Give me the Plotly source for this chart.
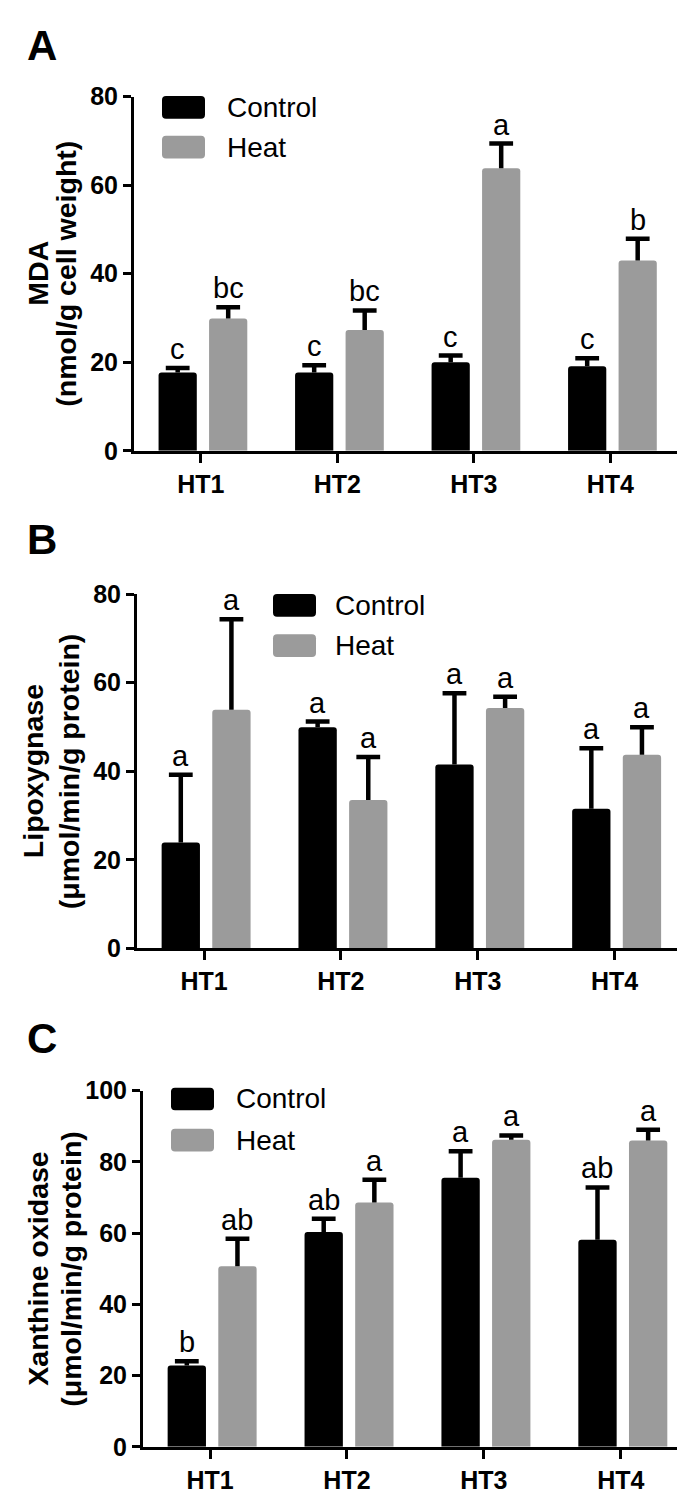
import plotly.graph_objects as go

# ---------------- data ----------------
categories = ["HT1", "HT2", "HT3", "HT4"]
series_names = ["Control", "Heat"]

# Panel A: MDA (nmol/g cell weight)
mda_control = [17.7, 17.7, 20.0, 19.1]
mda_control_err = [1.0, 1.6, 1.5, 1.8]
mda_heat = [29.9, 27.3, 63.8, 43.0]
mda_heat_err = [2.5, 4.4, 5.6, 4.9]
mda_control_letters = ["c", "c", "c", "c"]
mda_heat_letters = ["bc", "bc", "a", "b"]

# Panel B: Lipoxygnase (umol/min/g protein)
lox_control = [23.9, 49.9, 41.5, 31.5]
lox_control_err = [15.3, 1.3, 16.1, 13.7]
lox_heat = [53.9, 33.5, 54.3, 43.7]
lox_heat_err = [20.4, 9.7, 2.5, 6.2]
lox_control_letters = ["a", "a", "a", "a"]
lox_heat_letters = ["a", "a", "a", "a"]

# Panel C: Xanthine oxidase (umol/min/g protein)
xo_control = [22.8, 60.3, 75.5, 58.1]
xo_control_err = [1.2, 3.7, 7.5, 14.7]
xo_heat = [50.7, 68.6, 86.2, 86.0]
xo_heat_err = [7.7, 6.4, 1.2, 3.0]
xo_control_letters = ["b", "ab", "a", "ab"]
xo_heat_letters = ["ab", "a", "a", "a"]

y_ticks_80 = [0, 20, 40, 60, 80]
y_ticks_100 = [0, 20, 40, 60, 80, 100]

# ---------------- style / layout ----------------
W, H = 685, 1495
FONT = "Arial, 'Liberation Sans', sans-serif"
COLORS = ["#000000", "#9b9b9b"]
BAR_W = 0.28
OFFSETS = [-0.31, 0.06]


def px_x(x):
    return x / W


def px_y(y):
    return 1 - y / H


def rounded_box(x0, y0, x1, y1, r=3):
    """SVG path (paper coords) for a rounded rectangle given pixel corners."""
    pts = []
    pts.append(f"M{px_x(x0 + r)},{px_y(y0)}")
    pts.append(f"L{px_x(x1 - r)},{px_y(y0)}")
    pts.append(f"Q{px_x(x1)},{px_y(y0)} {px_x(x1)},{px_y(y0 + r)}")
    pts.append(f"L{px_x(x1)},{px_y(y1 - r)}")
    pts.append(f"Q{px_x(x1)},{px_y(y1)} {px_x(x1 - r)},{px_y(y1)}")
    pts.append(f"L{px_x(x0 + r)},{px_y(y1)}")
    pts.append(f"Q{px_x(x0)},{px_y(y1)} {px_x(x0)},{px_y(y1 - r)}")
    pts.append(f"L{px_x(x0)},{px_y(y0 + r)}")
    pts.append(f"Q{px_x(x0)},{px_y(y0)} {px_x(x0 + r)},{px_y(y0)}Z")
    return " ".join(pts)


panels = [
    dict(letter="A", ctrl=mda_control, ctrl_err=mda_control_err, heat=mda_heat, heat_err=mda_heat_err,
         ctrl_lab=mda_control_letters, heat_lab=mda_heat_letters, ymax=80, yticks=y_ticks_80,
         xdom=(126, 672), ydom=(76, 437), xr=(-0.49, 3.51),
         title1="MDA", title2="(nmol/g cell weight)", t1x=30, t2x=58,
         leg_x=154, leg_y=(87, 127.5), leg_tx=217, letter_pos=(17, 24)),
    dict(letter="B", ctrl=lox_control, ctrl_err=lox_control_err, heat=lox_heat, heat_err=lox_heat_err,
         ctrl_lab=lox_control_letters, heat_lab=lox_heat_letters, ymax=80, yticks=y_ticks_80,
         xdom=(129, 675), ydom=(583, 944), xr=(-0.49, 3.5),
         title1="Lipoxygnase", title2="(μmol/min/g protein)", t1x=25, t2x=61,
         leg_x=265, leg_y=(594.5, 635.5), leg_tx=325, letter_pos=(17, 527)),
    dict(letter="C", ctrl=xo_control, ctrl_err=xo_control_err, heat=xo_heat, heat_err=xo_heat_err,
         ctrl_lab=xo_control_letters, heat_lab=xo_heat_letters, ymax=100, yticks=y_ticks_100,
         xdom=(135, 673), ydom=(1089, 1452), xr=(-0.49, 3.44),
         title1="Xanthine oxidase", title2="(μmol/min/g protein)", t1x=30, t2x=63,
         leg_x=163, leg_y=(1097.5, 1139.5), leg_tx=226, letter_pos=(17, 1036)),
]

fig = go.Figure()
annotations = []
shapes = []
xs = list(range(len(categories)))

for i, p in enumerate(panels):
    ax = "" if i == 0 else str(i + 1)
    xref, yref = "x" + ax, "y" + ax
    for s, (vals, errs, labs) in enumerate([(p["ctrl"], p["ctrl_err"], p["ctrl_lab"]),
                                            (p["heat"], p["heat_err"], p["heat_lab"])]):
        centers = [k + OFFSETS[s] + BAR_W / 2 for k in xs]
        tops = [v + e for v, e in zip(vals, errs)]
        fig.add_trace(go.Bar(
            x=xs, y=vals, name=series_names[s], showlegend=False,
            xaxis=xref, yaxis=yref,
            width=BAR_W, offset=OFFSETS[s],
            marker=dict(color=COLORS[s], line=dict(width=0), cornerradius=3),
            error_y=dict(type="data", array=errs, arrayminus=[0] * len(errs), symmetric=False,
                         color="black", thickness=4.5, width=0),
        ))
        # error-bar caps (top only)
        fig.add_trace(go.Scatter(
            x=centers, y=tops, mode="markers", showlegend=False, hoverinfo="skip",
            xaxis=xref, yaxis=yref,
            marker=dict(symbol="line-ew", size=17, color="black",
                        line=dict(width=4.5, color="black")),
        ))
        for k in xs:
            annotations.append(dict(
                x=centers[k], y=tops[k], xref=xref, yref=yref,
                text=labs[k], showarrow=False, yanchor="bottom", xanchor="center", yshift=1,
                font=dict(family=FONT, size=29, color="black")))

    fig.layout["xaxis" + ax] = dict(
        domain=[px_x(p["xdom"][0]), px_x(p["xdom"][1])], anchor=yref, range=list(p["xr"]),
        tickvals=xs, ticktext=categories, showline=True, linewidth=3, linecolor="black",
        ticks="outside", ticklen=9, tickwidth=3, tickcolor="black", showgrid=False, zeroline=False,
        tickfont=dict(family=FONT, size=25, color="black", weight="bold"), fixedrange=True)
    fig.layout["yaxis" + ax] = dict(
        domain=[px_y(p["ydom"][1]), px_y(p["ydom"][0])], anchor=xref, range=[0, p["ymax"]],
        tickvals=p["yticks"], showline=True, linewidth=3, linecolor="black",
        ticks="outside", ticklen=8, tickwidth=3, tickcolor="black", showgrid=False, zeroline=False,
        tickfont=dict(family=FONT, size=25, color="black", weight="bold"), fixedrange=True)

    ymid = px_y((p["ydom"][0] + p["ydom"][1]) / 2)
    annotations.append(dict(x=px_x(p["t1x"]), y=ymid, xref="paper", yref="paper", text=p["title1"],
                            textangle=-90, showarrow=False, xanchor="center", yanchor="middle",
                            font=dict(family=FONT, size=28.5, color="black", weight="bold")))
    annotations.append(dict(x=px_x(p["t2x"]), y=ymid, xref="paper", yref="paper", text=p["title2"],
                            textangle=-90, showarrow=False, xanchor="center", yanchor="middle",
                            font=dict(family=FONT, size=28.5, color="black", weight="bold")))
    # panel letter
    annotations.append(dict(x=px_x(p["letter_pos"][0]), y=px_y(p["letter_pos"][1]), xref="paper",
                            yref="paper", text=p["letter"], showarrow=False, xanchor="left",
                            yanchor="middle",
                            font=dict(family=FONT, size=42, color="black", weight="bold")))
    # legend
    for s in range(2):
        cy = p["leg_y"][s]
        shapes.append(dict(type="path", xref="paper", yref="paper",
                           path=rounded_box(p["leg_x"], cy - 11.5, p["leg_x"] + 43, cy + 11.5, r=4),
                           fillcolor=COLORS[s], line=dict(width=0)))
        annotations.append(dict(x=px_x(p["leg_tx"]), y=px_y(cy), xref="paper", yref="paper",
                                text=series_names[s], showarrow=False, xanchor="left", yanchor="middle",
                                font=dict(family=FONT, size=28, color="black")))

fig.update_layout(
    width=W, height=H, margin=dict(l=0, r=0, t=0, b=0),
    paper_bgcolor="white", plot_bgcolor="white",
    barmode="overlay", annotations=annotations, shapes=shapes, showlegend=False,
    font=dict(family=FONT, color="black"),
)

fig.write_html("out.html")
